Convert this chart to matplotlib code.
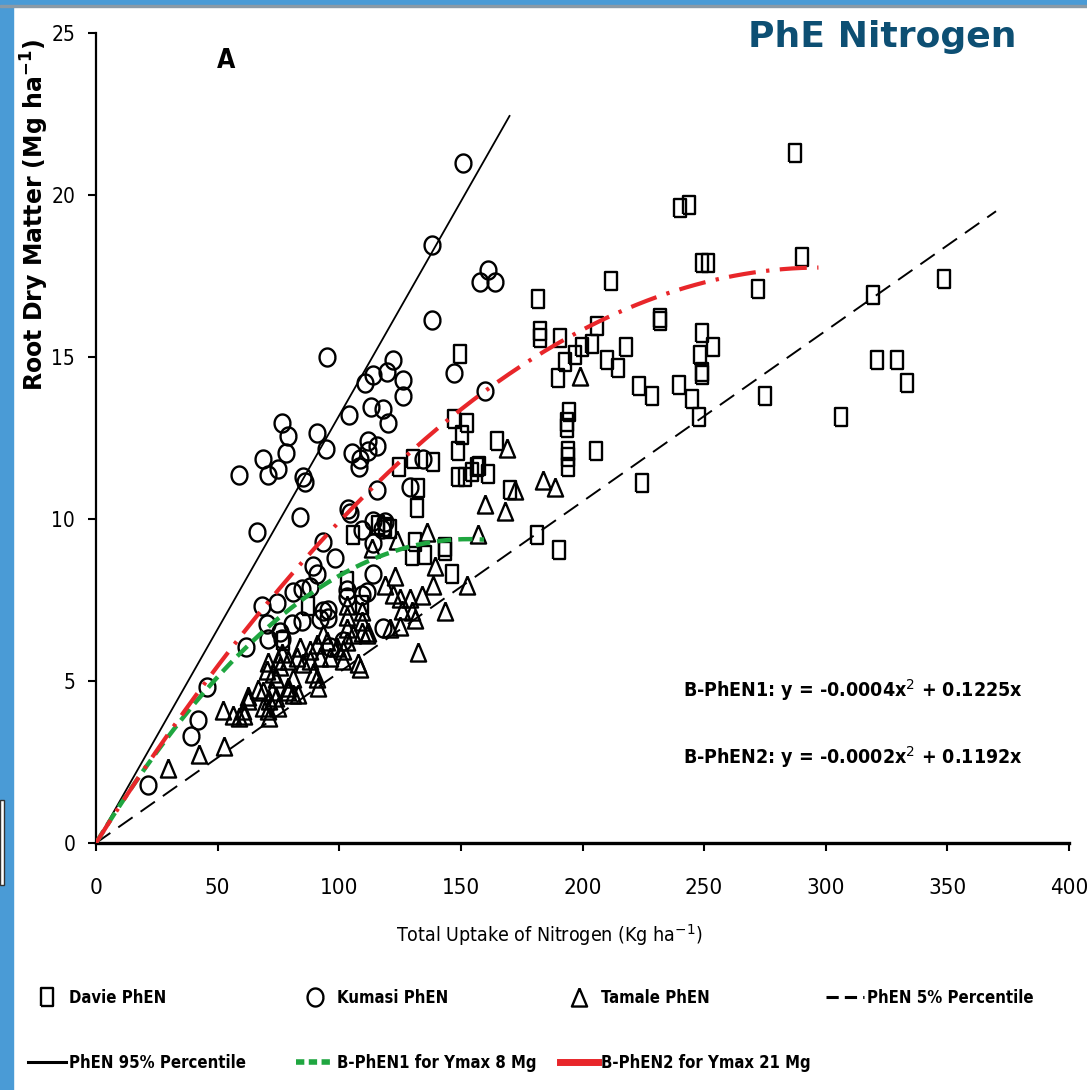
import numpy as np
import matplotlib
matplotlib.use('Agg')
import matplotlib.pyplot as plt
from matplotlib.lines import Line2D
from matplotlib.patches import Rectangle

NARROW = ['Liberation Sans Narrow', 'DejaVu Sans']
STRETCH = 'condensed'

# Davie PhEN (squares)
davie_x = [287.4, 240.1, 243.9, 290.1, 249.0, 251.7, 211.7, 272.0, 319.4, 348.6,
           181.6, 182.5, 182.5, 190.7, 205.8, 203.8, 199.7, 196.9, 192.8, 189.8,
           209.9, 214.7, 217.8, 231.9, 231.9, 249.0, 253.8, 248.3, 249.0, 249.0,
           223.4, 228.4, 239.8, 244.9, 247.9, 275.0, 306.1, 194.3, 193.5, 193.5,
           194.2, 194.2, 194.2, 205.4, 224.3, 181.2, 190.3, 147.3, 152.4, 149.6,
           150.3, 148.9, 164.7, 170.2, 148.9, 151.7, 154.4, 156.5, 161.3, 138.7,
           130.4, 124.7, 132.5, 131.8, 143.5, 105.8, 120.9, 131.1, 129.8, 135.3,
           143.5, 146.2, 103.1, 87.3, 109.2, 77.0, 320.9, 329.1, 333.3, 157.5,
           116.0, 119.0]
davie_y = [21.3, 19.6, 19.7, 18.1, 17.9, 17.9, 17.35, 17.1, 16.9, 17.4,
           16.8, 15.8, 15.6, 15.6, 15.95, 15.4, 15.3, 15.05, 14.85, 14.35,
           14.9, 14.65, 15.3, 16.2, 16.1, 15.75, 15.3, 15.05, 14.55, 14.45,
           14.1, 13.8, 14.15, 13.7, 13.15, 13.8, 13.15, 13.3, 13.0, 12.8,
           12.1, 11.9, 11.6, 12.1, 11.1, 9.5, 9.05, 13.1, 12.95, 15.1,
           12.6, 12.1, 12.4, 10.9, 11.3, 11.3, 11.45, 11.6, 11.4, 11.75,
           11.85, 11.6, 10.95, 10.35, 9.15, 9.5, 9.7, 9.3, 8.85, 8.9,
           9.0, 8.3, 8.1, 7.3, 7.35, 6.25, 14.9, 14.9, 14.2, 11.65,
           9.8, 9.75]

# Kumasi PhEN (circles)
kumasi_x = [151.0, 138.0, 138.0, 157.9, 161.3, 164.0, 147.2, 159.9, 126.3, 126.3,
            134.5, 129.1, 94.8, 122.2, 119.5, 114.0, 110.6, 112.9, 117.9, 120.2,
            104.1, 91.0, 94.6, 76.3, 79.1, 78.1, 68.8, 74.7, 70.6, 58.9,
            85.2, 85.9, 105.1, 108.5, 111.9, 111.9, 115.4, 108.3, 115.4, 83.9,
            103.7, 104.4, 66.1, 114.0, 118.8, 109.2, 117.5, 114.0, 93.4, 98.3,
            89.3, 90.7, 114.0, 68.1, 74.3, 81.1, 84.6, 88.0, 70.2, 75.6,
            80.5, 84.6, 70.8, 76.3, 93.4, 95.5, 92.1, 95.5, 103.1, 103.1,
            109.2, 118.1, 61.5, 45.7, 21.2, 39.1, 41.8, 101.6, 96.2, 111.3]
kumasi_y = [21.0, 18.45, 16.15, 17.3, 17.7, 17.3, 14.5, 13.95, 14.3, 13.8,
            11.85, 11.0, 15.0, 14.9, 14.55, 14.45, 14.2, 13.45, 13.4, 12.95,
            13.2, 12.65, 12.15, 12.95, 12.55, 12.05, 11.85, 11.55, 11.35, 11.35,
            11.3, 11.15, 12.05, 11.85, 12.4, 12.1, 12.25, 11.6, 10.9, 10.05,
            10.3, 10.2, 9.6, 9.95, 9.9, 9.65, 9.7, 9.25, 9.3, 8.8,
            8.55, 8.3, 8.3, 7.3, 7.4, 7.75, 7.85, 7.9, 6.75, 6.5,
            6.75, 6.85, 6.3, 6.3, 7.15, 7.2, 6.9, 6.95, 7.8, 7.6,
            7.65, 6.65, 6.05, 4.82, 1.8, 3.3, 3.8, 6.25, 6.05, 7.75]

# Tamale PhEN (triangles)
tamale_x = [199.0, 168.8, 183.9, 188.7, 172.2, 159.9, 168.1, 157.2, 136.0, 123.6,
            113.3, 139.4, 122.9, 138.7, 152.4, 118.8, 122.2, 125.0, 129.1, 133.9,
            125.7, 129.8, 131.1, 143.5, 132.5, 103.1, 103.1, 103.1, 109.2, 109.2,
            105.8, 103.1, 111.3, 107.8, 93.4, 94.8, 90.7, 88.0, 83.9, 82.5,
            88.0, 92.1, 90.7, 91.4, 101.7, 101.7, 76.3, 79.1, 75.6, 70.8,
            70.2, 72.9, 72.2, 79.1, 81.1, 66.7, 62.6, 120.9, 125.0, 96.2,
            98.9, 85.2, 89.3, 83.2, 29.5, 42.5, 52.7, 52.1, 56.2, 58.9,
            61.0, 62.4, 60.3, 68.5, 71.2, 68.5, 70.6, 74.0, 74.7, 71.2,
            74.7, 74.0, 78.8, 80.9, 112.0, 109.2, 108.5]
tamale_y = [14.4, 12.2, 11.2, 11.0, 10.9, 10.45, 10.25, 9.55, 9.6, 9.35,
            9.1, 8.55, 8.25, 7.95, 7.95, 7.95, 7.7, 7.55, 7.55, 7.65,
            7.2, 7.15, 6.9, 7.15, 5.9, 7.35, 7.0, 6.65, 7.15, 6.85,
            6.45, 6.25, 6.45, 5.55, 6.45, 6.25, 6.15, 5.95, 6.05, 5.75,
            5.65, 5.75, 5.1, 4.8, 5.95, 5.65, 5.85, 5.65, 5.45, 5.6,
            5.35, 5.25, 4.7, 4.7, 4.6, 4.75, 4.55, 6.65, 6.7, 5.75,
            6.05, 5.55, 5.25, 4.6, 2.3, 2.75, 3.0, 4.1, 3.95, 3.9,
            3.95, 4.4, 4.1, 4.7, 4.4, 4.2, 4.1, 4.5, 4.2, 3.9,
            5.65, 5.1, 4.8, 5.1, 6.5, 6.5, 5.4]

# percentile lines (slope, end of x range) and the two boundary curves
p95_slope, p95_xmax = 0.132, 170
p5_slope, p5_xmax = 0.0527, 370
b1_a, b1_b, b1_xmax = -0.0004, 0.1225, 159.5
b2_a, b2_b, b2_xmax = -0.0002, 0.1192, 297

xticks = [0, 50, 100, 150, 200, 250, 300, 350, 400]
yticks = [0, 5, 10, 15, 20, 25]

# marker shapes (the figure is a bit stretched vertically)
sq_verts = [(-0.35, -0.5), (0.35, -0.5), (0.35, 0.5), (-0.35, 0.5), (-0.35, -0.5)]
t = np.linspace(0, 2 * np.pi, 40)
circ_verts = list(zip(0.44 * np.cos(t), 0.5 * np.sin(t)))
tri_verts = [(0, 0.5), (-0.42, -0.5), (0.42, -0.5), (0, 0.5)]

fig = plt.figure(figsize=(10.87, 10.90), dpi=100)
fig.patch.set_facecolor('white')

# slide frame
fig.patches.append(Rectangle((0, 0), 13 / 1087, 1, transform=fig.transFigure,
                             color='#4a9bd6', zorder=0))
fig.patches.append(Rectangle((0, 1 - 5 / 1090), 1, 5 / 1090, transform=fig.transFigure,
                             color='#4a9bd6', zorder=0))
fig.patches.append(Rectangle((0, 1 - 7 / 1090), 1, 2 / 1090, transform=fig.transFigure,
                             color='#8a9aa6', zorder=0))
fig.patches.append(Rectangle((0, 1 - 885 / 1090), 4 / 1087, 85 / 1090, transform=fig.transFigure,
                             facecolor='white', edgecolor='#333333', lw=1.0, zorder=1))

ax = fig.add_axes([96 / 1087, 1 - 843 / 1090, 973 / 1087, 810 / 1090])
ax.set_facecolor('white')

mkw = dict(ls='none', mfc='none', mec='black', mew=1.7, ms=13, clip_on=False)
ax.plot(davie_x, davie_y, marker=sq_verts, **mkw)
ax.plot(kumasi_x, kumasi_y, marker=circ_verts, **mkw)
ax.plot(tamale_x, tamale_y, marker=tri_verts, **mkw)

x95 = np.array([0, p95_xmax])
ax.plot(x95, p95_slope * x95, color='black', lw=1.3, zorder=3)
x5 = np.array([0, p5_xmax])
ax.plot(x5, p5_slope * x5, color='black', lw=1.4, dashes=(9, 5), zorder=3)

xb1 = np.linspace(0, b1_xmax, 200)
ax.plot(xb1, b1_a * xb1 ** 2 + b1_b * xb1, color='#1fa640', lw=3.2,
        dashes=(3.2, 1.6), zorder=4)
xb2 = np.linspace(0, b2_xmax, 300)
ax.plot(xb2, b2_a * xb2 ** 2 + b2_b * xb2, color='#e8262a', lw=3.0,
        dashes=(6.5, 2.5, 0.8, 2.5), zorder=4)

ax.set_xlim(0, 400)
ax.set_ylim(0, 25)
ax.set_xticks(xticks)
ax.set_yticks(yticks)
for s in ['top', 'right']:
    ax.spines[s].set_visible(False)
ax.spines['left'].set_linewidth(1.6)
ax.spines['bottom'].set_linewidth(2.4)
ax.tick_params(axis='both', direction='out', length=6, width=1.5)
ax.tick_params(axis='x', pad=19, labelsize=16)
ax.tick_params(axis='y', pad=9, labelsize=15)
for lab in ax.get_xticklabels() + ax.get_yticklabels():
    lab.set_family(NARROW)
    lab.set_stretch(STRETCH)

ax.set_xlabel('Total Uptake of Nitrogen (Kg ha$^{-1}$)', fontsize=14, family=NARROW,
              stretch=STRETCH)
ax.xaxis.set_label_coords(0.466, -0.098)
ax.set_ylabel('Root Dry Matter (Mg ha$^{\\mathbf{-1}}$)', fontsize=17,
              fontweight='bold', family='DejaVu Sans')
ax.yaxis.set_label_coords(-0.046, 0.775)

ax.text(53.4, 24.15, 'A', fontsize=19, family=NARROW, stretch=STRETCH,
        fontweight='bold', ha='center', va='center')
ax.text(241.3, 4.72, 'B-PhEN1: y = -0.0004x$^2$ + 0.1225x', fontsize=14,
        family=NARROW, stretch=STRETCH, fontweight='bold', ha='left', va='center')
ax.text(241.3, 2.65, 'B-PhEN2: y = -0.0002x$^2$ + 0.1192x', fontsize=14,
        family=NARROW, stretch=STRETCH, fontweight='bold', ha='left', va='center')

fig.text(0.812, 0.966, 'PhE Nitrogen', fontsize=26, fontweight='bold',
         color='#0d4f73', ha='center', va='center', family='DejaVu Sans')

# legend: four columns laid out like the original
h_davie = Line2D([], [], ls='none', marker=sq_verts, mfc='none', mec='black', mew=1.7, ms=13)
h_kum = Line2D([], [], ls='none', marker=circ_verts, mfc='none', mec='black', mew=1.7, ms=13)
h_tam = Line2D([], [], ls='none', marker=tri_verts, mfc='none', mec='black', mew=1.7, ms=13)
h_p5 = Line2D([], [], color='black', lw=2.2, dashes=(4, 2))
h_p95 = Line2D([], [], color='black', lw=2.2)
h_b1 = Line2D([], [], color='#1fa640', lw=4, dashes=(1.5, 0.8))
h_b2 = Line2D([], [], color='#e8262a', lw=5)

cols = [([h_davie, h_p95], ['Davie PhEN', 'PhEN 95% Percentile'], 28),
        ([h_kum, h_b1], ['Kumasi PhEN', 'B-PhEN1 for Ymax 8 Mg'], 296),
        ([h_tam, h_b2], ['Tamale PhEN', 'B-PhEN2 for Ymax 21 Mg'], 560),
        ([h_p5], ['PhEN 5% Percentile'], 826)]
for hs, ls_, xpx in cols:
    fig.legend(hs, ls_, loc='upper left', bbox_to_anchor=(xpx / 1087, 1 - 989 / 1090),
               frameon=False, handlelength=2.25, handletextpad=0.2, labelspacing=2.8,
               borderpad=0, borderaxespad=0,
               prop=dict(family=NARROW, size=12, weight='bold', stretch=STRETCH))

fig.savefig('out.png', dpi=100, facecolor='white')
